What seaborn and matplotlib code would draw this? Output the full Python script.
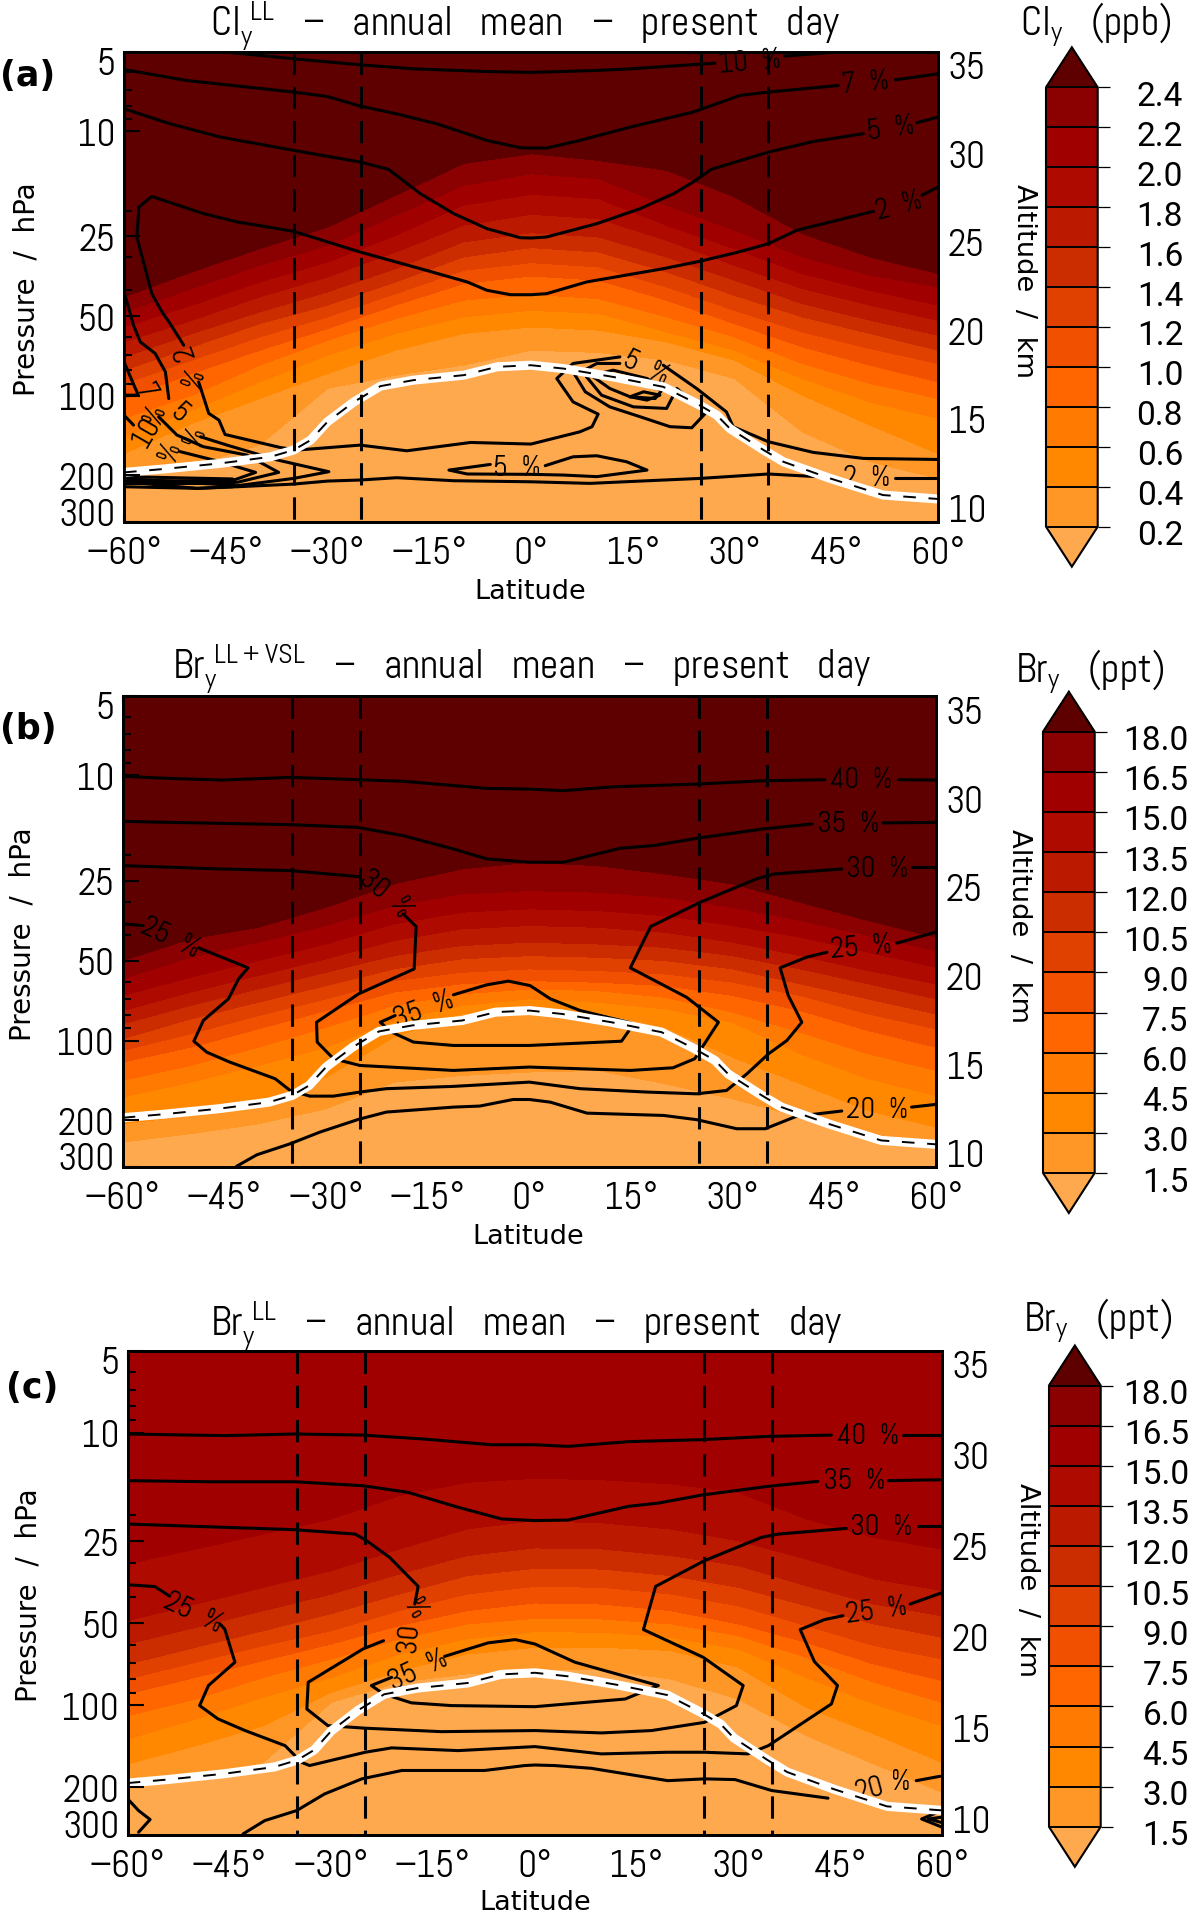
import numpy as np
import seaborn as sns
import matplotlib
matplotlib.use('Agg')
import matplotlib.pyplot as plt
from matplotlib.transforms import ScaledTranslation

sns.set_theme(style='ticks', rc={'axes.edgecolor': 'black', 'xtick.color': 'black', 'ytick.color': 'black', 'text.color': 'black'})
plt.rcParams['font.family'] = ['Abel', 'Liberation Sans Narrow', 'DejaVu Sans']
plt.rcParams['mathtext.fontset'] = 'custom'
plt.rcParams['mathtext.rm'] = 'Abel'
plt.rcParams['mathtext.default'] = 'regular'

W, H = 1191, 1915

# colours of the 13 bins, low to high
bin_colors = ['#FFA94F', '#FF9726', '#FF8800', '#FF7A00', '#FF6600', '#F05000', '#E04000',
              '#CC2D00', '#BB1A00', '#AE0A00', '#A00000', '#8B0000', '#5F0000']

iso_lats = [-60, -50, -40, -30, -20, -10, 0, 10, 20, 30, 40, 50, 60]
dash_lats = [-35, -25, 25, 35]
lat_ticks = [-60, -45, -30, -15, 0, 15, 30, 45, 60]
lat_labels = ['\u221260\u00b0', '\u221245\u00b0', '\u221230\u00b0', '\u221215\u00b0', '0\u00b0', '15\u00b0', '30\u00b0', '45\u00b0', '60\u00b0']
p_major = [5, 10, 25, 50, 100, 200, 300]
p_minor = [6, 7, 8, 9, 20, 30, 40, 60, 70, 80, 90]
cly_levels = [2.4, 2.2, 2.0, 1.8, 1.6, 1.4, 1.2, 1.0, 0.8, 0.6, 0.4, 0.2]
bry_levels = [18.0, 16.5, 15.0, 13.5, 12.0, 10.5, 9.0, 7.5, 6.0, 4.5, 3.0, 1.5]

# altitude (km) of each mixing ratio level, per latitude in iso_lats
cly_iso = [
    [21.88, 23.29, 24.60, 25.82, 27.61, 29.40, 29.96, 29.58, 29.02, 27.52, 25.45, 24.13, 23.19],
    [21.03, 22.35, 23.66, 24.79, 26.48, 28.17, 28.83, 28.55, 27.05, 25.64, 24.13, 23.10, 22.44],
    [20.18, 21.41, 22.72, 23.85, 25.35, 27.05, 27.67, 27.42, 25.92, 24.60, 23.19, 22.25, 21.41],
    [19.34, 20.56, 21.88, 23.00, 24.41, 25.92, 26.54, 26.29, 25.07, 23.66, 22.35, 21.41, 20.56],
    [18.49, 19.81, 21.03, 22.16, 23.47, 24.98, 25.50, 25.26, 24.13, 22.82, 21.50, 20.56, 19.72],
    [17.74, 19.06, 20.37, 21.41, 22.72, 24.13, 24.66, 24.41, 23.29, 21.97, 20.75, 19.81, 18.87],
    [16.99, 18.31, 19.62, 20.75, 22.06, 23.38, 23.81, 23.57, 22.44, 21.12, 19.90, 18.96, 18.12],
    [16.14, 17.55, 18.87, 20.09, 21.41, 22.63, 23.06, 22.82, 21.69, 20.37, 19.06, 18.02, 17.08],
    [15.02, 16.33, 18.02, 19.43, 20.65, 21.69, 22.03, 21.78, 20.75, 19.62, 18.12, 16.99, 16.14],
    [13.98, 15.49, 17.08, 18.59, 19.81, 20.75, 21.12, 20.94, 19.90, 18.87, 17.27, 15.95, 15.02],
    [13.04, 14.73, 16.14, 17.55, 18.87, 19.81, 20.18, 20.00, 19.34, 18.31, 16.33, 14.64, 13.04],
    [11.63, 12.38, 13.51, 16.71, 17.46, 18.02, 18.87, 18.74, 18.31, 17.27, 14.26, 12.57, 11.63],
]
bry_vsl_iso = [
    [20.84, 22.06, 22.72, 23.85, 25.17, 26.01, 26.39, 26.20, 25.73, 25.17, 24.13, 23.10, 22.16],
    [19.81, 21.03, 21.88, 22.82, 23.94, 24.60, 24.79, 24.70, 24.41, 23.85, 23.10, 22.25, 21.41],
    [18.87, 19.90, 20.84, 21.78, 22.91, 23.57, 23.76, 23.66, 23.38, 22.82, 22.16, 21.31, 20.47],
    [18.02, 19.06, 20.00, 20.94, 21.97, 22.63, 22.82, 22.72, 22.44, 21.88, 21.12, 20.28, 19.53],
    [17.27, 18.31, 19.24, 20.18, 21.12, 21.69, 21.88, 21.78, 21.59, 21.12, 20.37, 19.53, 18.68],
    [16.43, 17.55, 18.49, 19.43, 20.37, 20.94, 21.12, 21.03, 20.84, 20.37, 19.53, 18.68, 17.83],
    [15.77, 16.71, 17.74, 18.68, 19.71, 20.18, 20.37, 20.28, 20.09, 19.62, 18.87, 17.83, 16.99],
    [15.11, 15.95, 16.99, 18.02, 19.06, 19.53, 19.71, 19.62, 19.43, 18.87, 18.02, 16.89, 15.95],
    [14.08, 14.92, 15.95, 17.08, 18.31, 18.96, 19.24, 19.15, 18.77, 17.93, 16.80, 15.58, 14.64],
    [13.14, 13.98, 14.92, 15.95, 17.46, 18.31, 18.68, 18.49, 18.12, 17.36, 15.58, 14.17, 13.23],
    [11.63, 12.10, 12.85, 14.26, 16.52, 17.83, 18.12, 17.93, 17.08, 15.39, 13.89, 12.38, 11.44],
    [10.60, 11.07, 11.63, 12.48, 13.98, 14.36, 14.55, 14.64, 13.89, 13.04, 12.01, 11.07, 10.60],
]
bry_ll_iso = [
    [37.00] * 13,
    [36.50] * 13,
    [24.00, 24.81, 25.63, 26.46, 27.74, 28.47, 28.69, 28.61, 28.38, 27.92, 26.46, 25.45, 24.81],
    [20.88, 21.79, 22.71, 23.62, 24.81, 25.91, 26.37, 26.24, 25.91, 25.27, 24.26, 23.17, 22.53],
    [19.60, 20.51, 21.43, 22.34, 23.44, 24.45, 24.87, 24.81, 24.45, 23.90, 22.80, 21.79, 21.15],
    [18.50, 19.42, 20.33, 21.27, 22.34, 23.35, 23.75, 23.71, 23.35, 22.71, 21.70, 20.70, 19.97],
    [17.68, 18.60, 19.51, 20.33, 21.43, 22.34, 22.76, 22.71, 22.34, 21.70, 20.61, 19.51, 18.78],
    [16.86, 17.77, 18.69, 19.60, 20.61, 21.43, 21.85, 21.79, 21.43, 20.70, 19.69, 18.50, 17.59],
    [15.67, 16.58, 17.77, 18.78, 19.88, 20.70, 21.01, 20.97, 20.70, 20.06, 18.87, 17.50, 16.40],
    [14.39, 15.49, 16.68, 17.77, 19.05, 19.88, 20.28, 20.24, 19.97, 19.33, 17.77, 16.31, 15.12],
    [13.02, 14.02, 15.12, 16.95, 18.14, 19.05, 19.42, 19.42, 19.24, 18.32, 16.13, 14.67, 13.11],
    [11.92, 12.29, 13.11, 16.40, 17.50, 17.96, 18.19, 18.19, 17.68, 16.58, 14.57, 13.02, 11.47],
]

# tropopause, the same in all panels
tropo_lat = [-60, -54.2, -45.8, -38.4, -35, -32.5, -30, -26.1, -22.2, -17.3, -9.9, -5, 0, 4.8, 12.1, 19.5, 24.4, 27.4, 29.3, 34.3, 37.2, 44.1, 51.9, 60]
tropo_km = [11.97, 12.16, 12.48, 12.85, 13.23, 13.79, 14.83, 15.95, 16.84, 17.18, 17.46, 17.93, 18.02, 17.83, 17.36, 16.8, 15.86, 15.2, 14.45, 13.23, 12.57, 11.63, 10.69, 10.47]

# percentage contour lines (lat, km), split where a label interrupts them
cly_lines = [
    ([-44.8, -35, -25.2, -17.3, -6.5, 0, 9.7, 14.6, 27.1], [35.69, 35.32, 34.98, 34.75, 34.6, 34.55, 34.66, 34.75, 35.07]),
    ([37.4, 44.6], [35.47, 35.69]),
    ([-60, -50.7, -35, -30, -25.2, -19.8, -13.9, -6.5, -1.6, 0, 2.3, 7.2, 14.6, 23.9, 30.8, 35, 45.3], [34.71, 34.09, 33.44, 33.19, 32.65, 32.21, 31.65, 30.71, 30.3, 30.28, 30.28, 30.71, 31.46, 32.31, 33.25, 33.44, 33.81]),
    ([53.7, 60], [34.13, 34.47]),
    ([-60, -53.2, -45.8, -35, -25.2, -21, -16.3, -11.4, -6.5, -1.6, 0, 2.3, 9.7, 16.1, 21, 23.9, 26.6, 35, 41.6, 49], [32.5, 31.65, 30.9, 30.15, 29.49, 29.08, 27.7, 26.58, 25.73, 25.22, 25.2, 25.26, 26.01, 26.86, 27.7, 28.36, 29.08, 30.05, 30.65, 31.09]),
    ([56.9, 60], [31.71, 32.03]),
    ([-51.2, -53.2, -54.4, -55.9, -58.1, -57.8, -55.9, -48.3, -43.3, -35, -25.2, -16.3, -9.4, -6.5, -3, 0, 2.3, 8.2, 19.5, 24.9, 30.3, 35, 39.2, 50.5], [19.15, 20.37, 21.03, 22.06, 25.26, 26.95, 27.55, 26.58, 26.11, 25.58, 24.41, 23.47, 22.72, 22.25, 22.0, 22.0, 22.06, 22.72, 23.47, 23.89, 24.38, 24.88, 25.64, 26.71]),
    ([57.6, 60], [27.61, 28.08]),
    ([-49, -47.5, -46, -45.1, -37, -34.5, -25.2, -18.3, -8.9, 0, 7.2, 9, 9.9, 6.2, 3.8, 6.2, 13.1], [17.08, 15.3, 14.92, 14.11, 13.38, 13.23, 13.51, 13.19, 13.66, 13.57, 14.26, 14.55, 15.26, 15.95, 17.27, 18.12, 18.49]),
    ([19.5, 24.4, 28.8, 29.8, 35, 41.6, 49, 60], [18.02, 16.71, 15.39, 14.55, 13.7, 13.1, 12.76, 12.7]),
    ([6.5, 8, 11.6, 16.1, 20.5, 23.7, 25.7, 21.5], [17.46, 16.52, 15.67, 15.11, 14.55, 14.49, 15.3, 16.71]),
    ([6.5, 9.7, 13.1], [17.46, 18.12, 18.12]),
    ([8.2, 10.4, 15.1, 20, 21, 17.1, 12.1, 8.2], [17.36, 16.33, 15.67, 15.58, 16.33, 17.27, 17.74, 17.36]),
    ([9.2, 11.6, 14.6, 18.3, 19.3, 16.1, 12.6, 9.2], [17.36, 16.71, 16.24, 16.14, 16.61, 17.08, 17.46, 17.36]),
    ([14.6, 17.1, 19, 16.6, 14.6], [16.24, 16.05, 16.33, 16.52, 16.24]),
    ([-6, -12.1, -9.4, 0, 4.8, 9.7, 17.1, 14.1, 9.7, 6.2, 2.1], [12.42, 12.1, 11.88, 11.86, 11.82, 11.73, 12.1, 12.57, 12.91, 12.85, 12.35]),
    ([-60, -49.2, -43.3, -35, -30, -25.2, -19.8, -11.4, 0, 8.7, 16.1, 24.9, 35, 42.1], [11.44, 11.07, 11.16, 11.31, 11.48, 11.54, 11.67, 11.5, 11.44, 11.35, 11.48, 11.63, 11.88, 11.73]),
    ([53.7, 60], [11.67, 11.67]),
    ([-53.4, -53.9, -55.4, -57.6, -58.6, -60], [16.14, 17.65, 18.68, 19.34, 20.28, 22.16]),
    ([-60, -57.9, -60], [18.21, 16.33, 16.33]),
    ([-60, -58.6], [15.2, 14.64]),
    ([-48.7, -44.8, -37.4, -29.8, -35, -43.3, -60], [13.98, 13.51, 12.67, 12.01, 11.63, 11.22, 11.63]),
    ([-54.9, -52.2, -48.3, -41.9, -37.2, -43.3, -60], [15.11, 14.08, 13.42, 12.95, 11.97, 11.41, 11.54]),
    ([-51.7, -45.8, -40.6, -43.8, -60], [13.14, 12.57, 11.97, 11.54, 11.44]),
    ([-60, -44], [11.73, 11.6]),
    ([-60, -44], [11.35, 11.35]),
    ([-60, -49.2, -44], [11.16, 11.07, 11.16]),
]
bry_vsl_lines = [
    ([-60, -53, -45.2, -35.3, -25.2, -18.6, -6.3, 0, 5, 12.4, 24.7, 34.5, 43.6], [31.24, 31.12, 31.03, 31.18, 31.05, 30.96, 30.56, 30.52, 30.43, 30.65, 30.8, 30.99, 31.05]),
    ([54.5, 60], [31.05, 31.03]),
    ([-60, -53, -35.3, -25.4, -18.6, -11.2, -6.3, 0, 5, 13.4, 18.3, 24.7, 34.5, 41.7], [28.7, 28.64, 28.51, 28.36, 27.89, 27.14, 26.58, 26.39, 26.39, 27.18, 27.33, 27.74, 28.27, 28.55]),
    ([52.2, 59.9], [28.61, 28.64]),
    ([-60, -45.6, -35.3, -25.2], [26.2, 26.01, 25.92, 25.58]),
    ([-18.6, -16.7, -17, -25.2, -31.4, -31.3, -28.9, -25, -11.2, 0, 14.9, 21.2, 24.4, 27.9, 23.2, 14.9, 17.9, 25.2, 33.5, 36.2, 46.1], [23.47, 22.76, 20.37, 18.96, 17.36, 16.24, 15.3, 14.92, 14.64, 14.83, 14.64, 14.79, 15.3, 17.36, 18.77, 20.43, 22.76, 24.13, 25.45, 25.73, 26.01]),
    ([56.4, 59.9], [26.11, 26.11]),
    ([-19.8, -22, -20.3, -17.1, -11.2, 0, 13.6, 14.7, 14.9, 7.5, 3.1, 0.1, -3.1, -6.3, -11.2], [17.74, 17.36, 16.8, 16.24, 16.05, 16.05, 16.29, 16.89, 17.33, 18.02, 18.68, 19.43, 19.68, 19.47, 18.91]),
    ([-60, -57], [22.91, 22.82]),
    ([-48.8, -41.5, -42.9, -44.4, -48.1, -49.5, -47.6, -44.2, -37.5, -35.3, -32.4, -28.9, -25, -21.1, -11.2, 0, 7.5, 17.3, 24.7, 29.1, 32.1, 35.3, 38, 40.2, 38.2, 37, 40.9, 43.9], [21.56, 20.43, 19.81, 18.68, 17.46, 16.29, 15.67, 15.11, 14.17, 13.51, 13.19, 13.19, 13.42, 13.61, 13.74, 13.98, 13.61, 13.42, 13.32, 13.51, 14.45, 15.58, 16.33, 17.36, 18.87, 20.43, 21.03, 21.31]),
    ([54.2, 59.9], [21.82, 22.44]),
    ([-43.2, -40.2, -35.3, -30.9, -25.2, -21.1, -11.2, -7.3, -2.4, 0, 3.1, 8.5, 19.8, 24.7, 30.6, 34.8, 39.4, 46.1], [9.23, 9.88, 10.5, 11.16, 11.88, 12.29, 12.57, 12.63, 13.0, 13.0, 12.85, 12.23, 12.1, 11.86, 11.35, 11.35, 12.05, 12.35]),
    ([56.4, 59.9], [12.57, 12.72]),
]
bry_ll_lines = [
    ([-60, -45.7, -35.4, -25.3, -16.2, -6.4, 0, 4.9, 13.8, 24.6, 34.4, 43.7], [31.12, 31.03, 31.12, 31.06, 30.84, 30.53, 30.53, 30.44, 30.7, 30.81, 30.99, 31.06]),
    ([54.3, 59.9], [31.06, 31.06]),
    ([-60, -48.1, -35.4, -25.3, -18.7, -11.3, -4.9, 0, 4.9, 13.8, 18.2, 24.6, 34.4, 41.7], [28.56, 28.5, 28.5, 28.28, 27.92, 27.1, 26.46, 26.37, 26.4, 27.15, 27.33, 27.77, 28.25, 28.52]),
    ([52.1, 59.7], [28.56, 28.61]),
    ([-60, -45.7, -35.4, -26.5, -25, -21.4, -17.2, -17.7], [26.18, 26, 25.87, 25.63, 25.32, 24.35, 22.76, 21.79]),
    ([-22.3, -25.3, -33.4, -33.6, -30.5, -25, -13.8, 0, 9.8, 17.2, 25, 29.7, 30.7, 24.8, 16, 17.8, 25, 33.4, 35.9, 45.9], [19.78, 19.33, 17.5, 16.03, 15.12, 14.98, 14.79, 14.85, 14.72, 14.85, 15.3, 16.22, 17.32, 18.87, 20.39, 22.76, 24.17, 25.45, 25.63, 25.94]),
    ([56.5, 59.7], [26.09, 26.09]),
    ([-21.1, -24.1, -22.3, -18.2, -12.3, 0, 13.3, 16.9, 18.2, 9.8, 5.9, 0, -2.9, -6.9, -13.3], [17.77, 17.32, 16.86, 16.37, 16.22, 16.16, 16.58, 17.13, 17.32, 18.19, 18.6, 19.6, 19.84, 19.66, 18.92]),
    ([-60, -56, -53.8], [22.85, 22.75, 22.22]),
    ([-46.4, -45.7, -44.2, -48.1, -49.4, -46.7, -42.7, -36.8, -34.4, -33.2, -25, -21.1, -11.3, 0, 9.8, 19.6, 25, 31.4, 34.4, 43.7, 44.6, 41.2, 39.1, 42.7, 45.4], [20.7, 20.42, 18.6, 17.32, 16.22, 15.49, 14.85, 14.02, 13.11, 12.93, 13.66, 13.9, 13.75, 13.97, 13.57, 13.66, 13.66, 13.57, 14.02, 16.31, 17.32, 18.63, 20.39, 20.94, 21.15]),
    ([55.3, 59.9], [21.79, 22.4]),
    ([-43, -39.8, -35.1, -31, -25.5, -19.6, -7.4, -1.5, 0, 2.9, 8.3, 19.6, 25, 29.5, 34.9, 43.2], [9.18, 9.91, 10.46, 11.37, 12.2, 12.66, 12.66, 12.93, 12.96, 12.93, 12.78, 12.1, 12.2, 12.16, 11.56, 11.14]),
    ([56.2, 59.7], [12.1, 12.34]),
    ([-60, -58.4, -56.7, -58.4], [11.1, 10.46, 9.97, 9.27]),
    ([60, 57, 60], [10.46, 10.0, 9.55]),
    ([60, 58, 60], [10.1, 10.0, 9.8]),
]

# contour labels: text, lat, km, rotation
cly_labels = [('10  %', 32.3, 35.17, 5), ('7  %', 49.3, 34.0, 5), ('5  %', 53.1, 31.4, 8), ('2  %', 54.2, 27.05, 15),
              ('2  %', 49.5, 11.67, 0), ('5  %', -2, 12.23, 0), ('5  %', 17, 17.9, -25),
              ('2', -51, 18.81, 110), ('%', -49.6, 17.37, 70), ('5', -51.8, 15.3, -40), ('%', -49.5, 14.08, 70),
              ('7', -56.9, 16.52, -60), ('10', -56.7, 14.3, 60), ('%', -55.4, 15.3, 70), ('%', -53.2, 13.23, 70)]
bry_vsl_labels = [('25  %', -53, 22.16, -25), ('30', -23.1, 25.13, -40), ('%', -19.2, 23.85, -60), ('35  %', -15.6, 18.12, 20),
                  ('40  %', 49, 31.05, 0), ('35  %', 47.1, 28.55, 0), ('30  %', 51.3, 26.01, 0), ('25  %', 49, 21.6, 5), ('20  %', 51.3, 12.42, 0)]
bry_ll_labels = [('25  %', -50.3, 21.34, -25), ('%', -17.7, 21.52, -60), ('30', -18.5, 20.0, 85), ('35  %', -17.2, 18.2, 25),
                 ('40  %', 49.1, 31.03, 0), ('35  %', 47.1, 28.56, 0), ('30  %', 51.1, 26.04, 0), ('25  %', 50.3, 21.43, 8),
                 ('20', 49.4, 11.65, 15), ('%', 54, 12.05, 0)]


def px_rect(x0, y0, x1, y1):
    return [x0 / W, 1 - y1 / H, (x1 - x0) / W, (y1 - y0) / H]


def draw_panel(fig, box, km_lim, levels, iso, lines, labels, top_val, bot_val):
    ax = fig.add_axes(px_rect(*box))
    x = np.tile(iso_lats, (len(levels) + 2, 1))
    y = np.vstack([np.full(13, 38.0), np.array(iso), np.full(13, 8.0)])
    z_rows = [top_val] + levels + [bot_val]
    z = np.tile(np.array(z_rows)[:, None], (1, 13))
    cf = ax.contourf(x, y, z, levels=levels[::-1], colors=sns.color_palette(bin_colors), extend='both', zorder=1)

    for lat, km in lines:
        sns.lineplot(x=lat, y=km, sort=False, estimator=None, color='black', lw=2.2, ax=ax, zorder=3)
    for txt, lat, km, rot in labels:
        ax.text(lat, km, txt, rotation=rot, rotation_mode='anchor', ha='center', va='center', fontsize=21, color='black', zorder=3)

    sns.lineplot(x=tropo_lat, y=tropo_km, sort=False, estimator=None, color='white', lw=6.5, ax=ax, zorder=4)
    sns.lineplot(x=tropo_lat, y=tropo_km, sort=False, estimator=None, color='black', lw=1.4, ax=ax, zorder=5,
                 linestyle=(0, (6.5, 6.5)))
    for d in dash_lats:
        ax.plot([d, d], [km_lim[1], km_lim[0]], color='black', lw=2.2, dashes=(7.3, 3.9), zorder=6)

    ax.set_xlim(-60, 60)
    ax.set_ylim(*km_lim)
    ax.set_xlabel('')
    ax.set_ylabel('')
    ax.set_xticks(lat_ticks)
    ax.set_xticklabels(lat_labels)
    ax.tick_params(axis='x', which='both', direction='in', top=True, bottom=True, length=6, width=1.5, pad=10, labelsize=27)

    axp = ax.twinx()
    ax.yaxis.tick_right()
    ax.set_yticks([10, 15, 20, 25, 30, 35])
    ax.set_yticks(np.arange(10, 36), minor=True)
    ax.tick_params(axis='y', which='major', direction='in', length=11.5, width=1.5, pad=7, labelsize=27)
    ax.tick_params(axis='y', which='minor', direction='in', length=6, width=1.5)

    axp.set_yscale('log')
    axp.set_ylim(300, 5)
    axp.yaxis.tick_left()
    axp.set_yticks(p_major)
    axp.set_yticklabels([str(p) for p in p_major])
    axp.set_yticks(p_minor, minor=True)
    axp.set_yticklabels([], minor=True)
    axp.tick_params(axis='y', which='major', direction='in', length=11.5, width=1.5, pad=6, labelsize=27)
    axp.tick_params(axis='y', which='minor', direction='in', length=6, width=1.5)
    for tl in axp.get_yticklabels():
        # the two end labels sit inside the frame
        if tl.get_text() == '300':
            tl.set_transform(tl.get_transform() + ScaledTranslation(0, 0.11, fig.dpi_scale_trans))
        if tl.get_text() == '5':
            tl.set_transform(tl.get_transform() + ScaledTranslation(0, -0.09, fig.dpi_scale_trans))
    for sp in list(ax.spines.values()) + list(axp.spines.values()):
        sp.set_linewidth(2)
        sp.set_visible(True)
    return cf


def draw_cbar(fig, cf, box, fmt, pad):
    cax = fig.add_axes(px_rect(*box))
    bar_len = box[3] - box[1]
    frac = 40 / (bar_len - 80)
    cb = fig.colorbar(cf, cax=cax, extend='both', extendfrac=frac, drawedges=True)
    cb.set_ticks(cf.levels)
    cb.set_ticklabels([fmt % v for v in cf.levels])
    cb.dividers.set_color('black')
    cb.dividers.set_linewidth(1.4)
    cb.outline.set_linewidth(1.5)
    cb.outline.set_edgecolor('black')
    cax.tick_params(axis='y', which='major', direction='out', length=8.5, width=0.9, pad=pad, labelsize=24)
    cax.tick_params(axis='y', which='minor', length=0)
    shift = ScaledTranslation(0, -5 / 100, fig.dpi_scale_trans)
    for tl in cax.get_yticklabels():
        tl.set_fontfamily(['Roboto', 'DejaVu Sans'])
        tl.set_ha('right')
        tl.set_transform(tl.get_transform() + shift)


def put(fig, x, y, s, **kw):
    fig.text(x / W, 1 - y / H, s, **kw)


fig = plt.figure(figsize=(W / 100, H / 100), dpi=100, facecolor='white')

cf_a = draw_panel(fig, (124, 52.5, 938, 523), (9.17, 35.73), cly_levels, cly_iso, cly_lines, cly_labels, 2.8, 0.0)
cf_b = draw_panel(fig, (122.7, 696.7, 936, 1168), (9.19, 35.79), bry_levels, bry_vsl_iso, bry_vsl_lines, bry_vsl_labels, 20.0, 0.0)
cf_c = draw_panel(fig, (127.7, 1351.7, 942, 1836), (9.12, 35.69), bry_levels, bry_ll_iso, bry_ll_lines, bry_ll_labels, 20.0, 0.0)

draw_cbar(fig, cf_a, (1046, 48.3, 1097.7, 567.7), '%.1f', 53)
draw_cbar(fig, cf_b, (1043, 692.7, 1094.7, 1214), '%.1f', 59)
draw_cbar(fig, cf_c, (1049, 1346.5, 1100.7, 1867.8), '%.1f', 55)

# titles and outer labels
dash = '\u2013'
tail = f'   {dash}   annual   mean   {dash}   present   day'
title_kw = dict(fontsize=29, ha='center', va='baseline', color='black')
put(fig, 525, 35, r'$Cl_{y}^{\ LL}$' + tail, **title_kw)
put(fig, 522, 678, r'$Br_{y}^{\ LL+VSL}$' + tail, **title_kw)
put(fig, 526.5, 1335, r'$Br_{y}^{\ LL}$' + tail, **title_kw)
put(fig, 1096, 35, r'$Cl_{y}$   (ppb)', **title_kw)
put(fig, 1090, 682, r'$Br_{y}$   (ppt)', **title_kw)
put(fig, 1098, 1331, r'$Br_{y}$   (ppt)', **title_kw)

for lab, x, y in [('(a)', 0, 86), ('(b)', 0, 739), ('(c)', 6, 1398)]:
    put(fig, x, y, lab, fontsize=25, fontweight='bold', family='DejaVu Sans', ha='left', va='baseline', color='black')

for x, y in [(530, 592), (528, 1237), (535, 1903)]:
    put(fig, x, y, 'Latitude', fontsize=19.5, family='DejaVu Sans', ha='center', va='center', color='black')
for x, y in [(27, 289), (23, 934), (29, 1595)]:
    put(fig, x, y, 'Pressure  /  hPa', fontsize=20, family='DejaVu Sans', rotation=90, ha='center', va='center', color='black')
for x, y in [(1024, 281), (1019, 925.6), (1027, 1580)]:
    put(fig, x, y, 'Altitude  /  km', fontsize=19.7, family='DejaVu Sans', rotation=-90, ha='center', va='center', color='black')

fig.savefig('out.png', dpi=100)
